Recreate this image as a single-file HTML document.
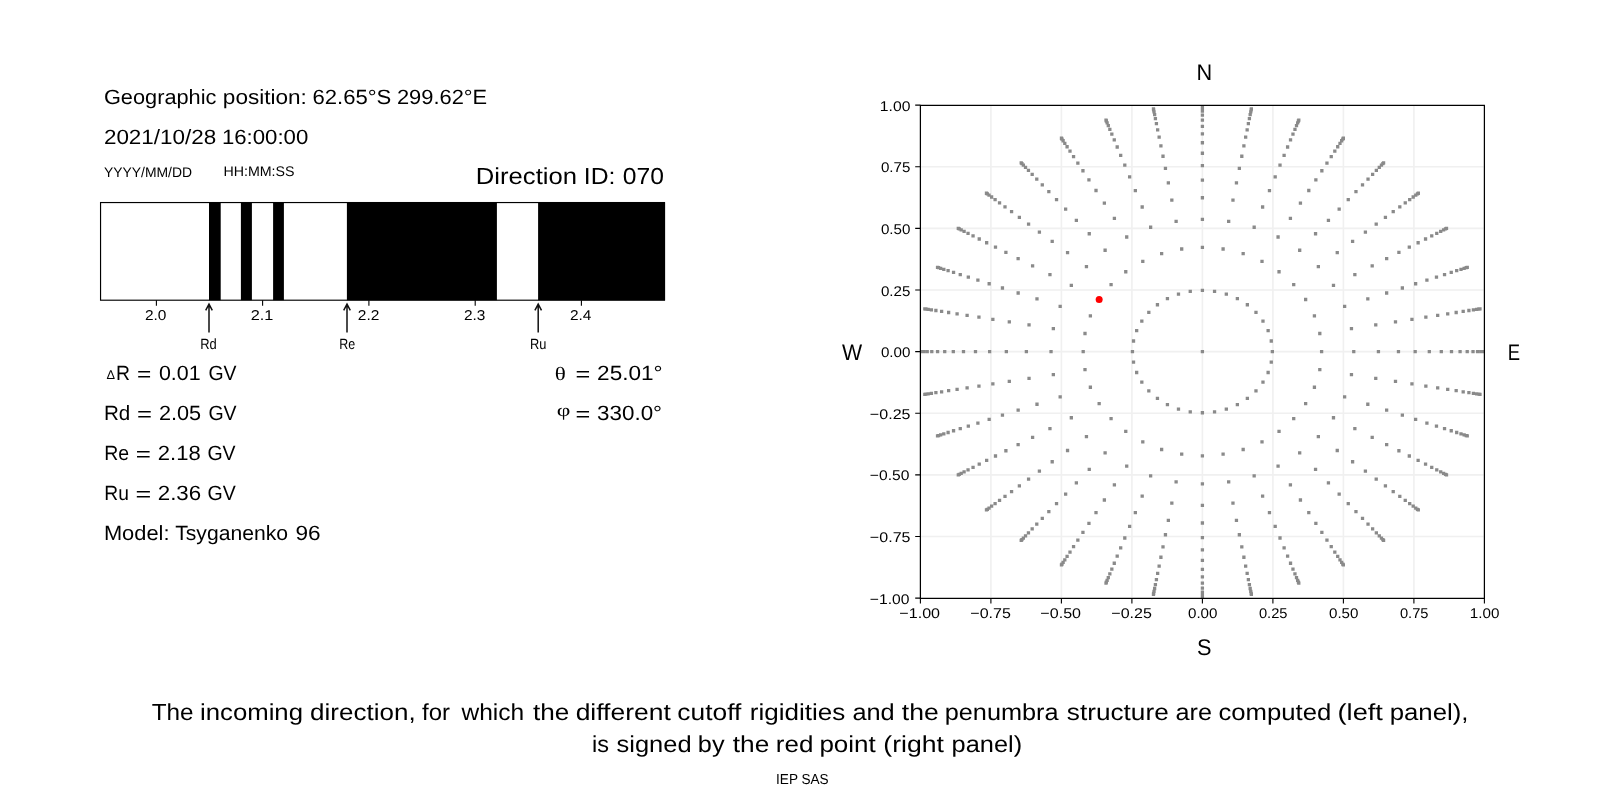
<!DOCTYPE html><html><head><meta charset="utf-8"><style>html,body{margin:0;padding:0;background:#fff;width:1600px;height:800px;overflow:hidden}svg{display:block;will-change:transform}text{fill:#000;white-space:pre;text-rendering:geometricPrecision}</style></head><body>
<svg width="1600" height="800" viewBox="0 0 1600 800">
<rect x="0" y="0" width="1600" height="800" fill="#fff"/>
<rect x="209.00" y="202.55" width="11.70" height="97.65" fill="#000"/>
<rect x="240.90" y="202.55" width="11.00" height="97.65" fill="#000"/>
<rect x="273.10" y="202.55" width="10.80" height="97.65" fill="#000"/>
<rect x="346.90" y="202.55" width="150.00" height="97.65" fill="#000"/>
<rect x="538.10" y="202.55" width="126.95" height="97.65" fill="#000"/>
<rect x="100.55" y="202.55" width="563.95" height="97.65" fill="none" stroke="#000" stroke-width="1.15"/>
<line x1="156.40" y1="300.20" x2="156.40" y2="305.8" stroke="#000" stroke-width="1.1"/>
<line x1="262.60" y1="300.20" x2="262.60" y2="305.8" stroke="#000" stroke-width="1.1"/>
<line x1="368.90" y1="300.20" x2="368.90" y2="305.8" stroke="#000" stroke-width="1.1"/>
<line x1="475.20" y1="300.20" x2="475.20" y2="305.8" stroke="#000" stroke-width="1.1"/>
<line x1="581.40" y1="300.20" x2="581.40" y2="305.8" stroke="#000" stroke-width="1.1"/>
<path d="M209.00 332.5 L209.00 304.4 M205.70 310.4 L209.00 304.2 L212.30 310.4" fill="none" stroke="#111" stroke-width="1.5" stroke-linejoin="miter"/>
<path d="M347.00 332.5 L347.00 304.4 M343.70 310.4 L347.00 304.2 L350.30 310.4" fill="none" stroke="#111" stroke-width="1.5" stroke-linejoin="miter"/>
<path d="M538.20 332.5 L538.20 304.4 M534.90 310.4 L538.20 304.2 L541.50 310.4" fill="none" stroke="#111" stroke-width="1.5" stroke-linejoin="miter"/>
<path d="M1484.40 105.40V598.40M920.40 105.10H1484.40M1413.90 105.40V598.40M920.40 166.73H1484.40M1343.40 105.40V598.40M920.40 228.35H1484.40M1272.90 105.40V598.40M920.40 289.98H1484.40M1202.40 105.40V598.40M920.40 351.60H1484.40M1131.90 105.40V598.40M920.40 413.23H1484.40M1061.40 105.40V598.40M920.40 474.85H1484.40M990.90 105.40V598.40M920.40 536.48H1484.40M920.40 105.40V598.40M920.40 598.10H1484.40" fill="none" stroke="#f0f0f0" stroke-width="1.6"/>
<clipPath id="ax"><rect x="920.40" y="105.40" width="564.00" height="493.00"/></clipPath>
<path clip-path="url(#ax)" d="M1200.75 349.95h3.3v3.3h-3.3zM1130.80 349.95h3.3v3.3h-3.3zM1131.87 360.57h3.3v3.3h-3.3zM1135.02 370.86h3.3v3.3h-3.3zM1140.17 380.52h3.3v3.3h-3.3zM1147.17 389.25h3.3v3.3h-3.3zM1155.79 396.79h3.3v3.3h-3.3zM1165.78 402.90h3.3v3.3h-3.3zM1176.83 407.40h3.3v3.3h-3.3zM1188.60 410.16h3.3v3.3h-3.3zM1200.75 411.09h3.3v3.3h-3.3zM1212.90 410.16h3.3v3.3h-3.3zM1224.67 407.40h3.3v3.3h-3.3zM1235.72 402.90h3.3v3.3h-3.3zM1245.71 396.79h3.3v3.3h-3.3zM1254.33 389.25h3.3v3.3h-3.3zM1261.33 380.52h3.3v3.3h-3.3zM1266.48 370.86h3.3v3.3h-3.3zM1269.63 360.57h3.3v3.3h-3.3zM1270.70 349.95h3.3v3.3h-3.3zM1269.63 339.33h3.3v3.3h-3.3zM1266.48 329.04h3.3v3.3h-3.3zM1261.33 319.38h3.3v3.3h-3.3zM1254.33 310.65h3.3v3.3h-3.3zM1245.71 303.11h3.3v3.3h-3.3zM1235.72 297.00h3.3v3.3h-3.3zM1224.67 292.50h3.3v3.3h-3.3zM1212.90 289.74h3.3v3.3h-3.3zM1200.75 288.81h3.3v3.3h-3.3zM1188.60 289.74h3.3v3.3h-3.3zM1176.83 292.50h3.3v3.3h-3.3zM1165.78 297.00h3.3v3.3h-3.3zM1155.79 303.11h3.3v3.3h-3.3zM1147.17 310.65h3.3v3.3h-3.3zM1140.17 319.38h3.3v3.3h-3.3zM1135.02 329.04h3.3v3.3h-3.3zM1131.87 339.33h3.3v3.3h-3.3zM1081.54 349.95h3.3v3.3h-3.3zM1083.35 368.05h3.3v3.3h-3.3zM1088.73 385.59h3.3v3.3h-3.3zM1097.51 402.05h3.3v3.3h-3.3zM1109.43 416.93h3.3v3.3h-3.3zM1124.12 429.78h3.3v3.3h-3.3zM1141.14 440.19h3.3v3.3h-3.3zM1159.98 447.87h3.3v3.3h-3.3zM1180.05 452.57h3.3v3.3h-3.3zM1200.75 454.16h3.3v3.3h-3.3zM1221.45 452.57h3.3v3.3h-3.3zM1241.52 447.87h3.3v3.3h-3.3zM1260.36 440.19h3.3v3.3h-3.3zM1277.38 429.78h3.3v3.3h-3.3zM1292.07 416.93h3.3v3.3h-3.3zM1303.99 402.05h3.3v3.3h-3.3zM1312.77 385.59h3.3v3.3h-3.3zM1318.15 368.05h3.3v3.3h-3.3zM1319.96 349.95h3.3v3.3h-3.3zM1318.15 331.85h3.3v3.3h-3.3zM1312.77 314.31h3.3v3.3h-3.3zM1303.99 297.85h3.3v3.3h-3.3zM1292.07 282.97h3.3v3.3h-3.3zM1277.38 270.12h3.3v3.3h-3.3zM1260.36 259.71h3.3v3.3h-3.3zM1241.52 252.03h3.3v3.3h-3.3zM1221.45 247.33h3.3v3.3h-3.3zM1200.75 245.74h3.3v3.3h-3.3zM1180.05 247.33h3.3v3.3h-3.3zM1159.98 252.03h3.3v3.3h-3.3zM1141.14 259.71h3.3v3.3h-3.3zM1124.12 270.12h3.3v3.3h-3.3zM1109.43 282.97h3.3v3.3h-3.3zM1097.51 297.85h3.3v3.3h-3.3zM1088.73 314.31h3.3v3.3h-3.3zM1083.35 331.85h3.3v3.3h-3.3zM1049.39 349.95h3.3v3.3h-3.3zM1051.69 372.92h3.3v3.3h-3.3zM1058.52 395.20h3.3v3.3h-3.3zM1069.67 416.10h3.3v3.3h-3.3zM1084.80 434.99h3.3v3.3h-3.3zM1103.46 451.30h3.3v3.3h-3.3zM1125.07 464.53h3.3v3.3h-3.3zM1148.98 474.28h3.3v3.3h-3.3zM1174.47 480.25h3.3v3.3h-3.3zM1200.75 482.26h3.3v3.3h-3.3zM1227.03 480.25h3.3v3.3h-3.3zM1252.52 474.28h3.3v3.3h-3.3zM1276.43 464.53h3.3v3.3h-3.3zM1298.04 451.30h3.3v3.3h-3.3zM1316.70 434.99h3.3v3.3h-3.3zM1331.83 416.10h3.3v3.3h-3.3zM1342.98 395.20h3.3v3.3h-3.3zM1349.81 372.92h3.3v3.3h-3.3zM1352.11 349.95h3.3v3.3h-3.3zM1349.81 326.98h3.3v3.3h-3.3zM1342.98 304.70h3.3v3.3h-3.3zM1331.83 283.80h3.3v3.3h-3.3zM1316.70 264.91h3.3v3.3h-3.3zM1298.04 248.60h3.3v3.3h-3.3zM1276.43 235.37h3.3v3.3h-3.3zM1252.52 225.62h3.3v3.3h-3.3zM1227.03 219.65h3.3v3.3h-3.3zM1200.75 217.64h3.3v3.3h-3.3zM1174.47 219.65h3.3v3.3h-3.3zM1148.98 225.62h3.3v3.3h-3.3zM1125.07 235.37h3.3v3.3h-3.3zM1103.46 248.60h3.3v3.3h-3.3zM1084.80 264.91h3.3v3.3h-3.3zM1069.67 283.80h3.3v3.3h-3.3zM1058.52 304.70h3.3v3.3h-3.3zM1051.69 326.98h3.3v3.3h-3.3zM1024.72 349.95h3.3v3.3h-3.3zM1027.39 376.67h3.3v3.3h-3.3zM1035.34 402.58h3.3v3.3h-3.3zM1048.30 426.88h3.3v3.3h-3.3zM1065.90 448.86h3.3v3.3h-3.3zM1087.60 467.82h3.3v3.3h-3.3zM1112.74 483.21h3.3v3.3h-3.3zM1140.54 494.54h3.3v3.3h-3.3zM1170.18 501.48h3.3v3.3h-3.3zM1200.75 503.82h3.3v3.3h-3.3zM1231.32 501.48h3.3v3.3h-3.3zM1260.96 494.54h3.3v3.3h-3.3zM1288.76 483.21h3.3v3.3h-3.3zM1313.90 467.82h3.3v3.3h-3.3zM1335.60 448.86h3.3v3.3h-3.3zM1353.20 426.88h3.3v3.3h-3.3zM1366.16 402.58h3.3v3.3h-3.3zM1374.11 376.67h3.3v3.3h-3.3zM1376.78 349.95h3.3v3.3h-3.3zM1374.11 323.23h3.3v3.3h-3.3zM1366.16 297.32h3.3v3.3h-3.3zM1353.20 273.02h3.3v3.3h-3.3zM1335.60 251.04h3.3v3.3h-3.3zM1313.90 232.08h3.3v3.3h-3.3zM1288.76 216.69h3.3v3.3h-3.3zM1260.96 205.36h3.3v3.3h-3.3zM1231.32 198.42h3.3v3.3h-3.3zM1200.75 196.08h3.3v3.3h-3.3zM1170.18 198.42h3.3v3.3h-3.3zM1140.54 205.36h3.3v3.3h-3.3zM1112.74 216.69h3.3v3.3h-3.3zM1087.60 232.08h3.3v3.3h-3.3zM1065.90 251.04h3.3v3.3h-3.3zM1048.30 273.02h3.3v3.3h-3.3zM1035.34 297.32h3.3v3.3h-3.3zM1027.39 323.23h3.3v3.3h-3.3zM1004.68 349.95h3.3v3.3h-3.3zM1007.66 379.71h3.3v3.3h-3.3zM1016.51 408.57h3.3v3.3h-3.3zM1030.95 435.64h3.3v3.3h-3.3zM1050.55 460.11h3.3v3.3h-3.3zM1074.72 481.24h3.3v3.3h-3.3zM1102.72 498.37h3.3v3.3h-3.3zM1133.69 511.00h3.3v3.3h-3.3zM1166.70 518.73h3.3v3.3h-3.3zM1200.75 521.33h3.3v3.3h-3.3zM1234.80 518.73h3.3v3.3h-3.3zM1267.81 511.00h3.3v3.3h-3.3zM1298.78 498.37h3.3v3.3h-3.3zM1326.78 481.24h3.3v3.3h-3.3zM1350.95 460.11h3.3v3.3h-3.3zM1370.55 435.64h3.3v3.3h-3.3zM1384.99 408.57h3.3v3.3h-3.3zM1393.84 379.71h3.3v3.3h-3.3zM1396.82 349.95h3.3v3.3h-3.3zM1393.84 320.19h3.3v3.3h-3.3zM1384.99 291.33h3.3v3.3h-3.3zM1370.55 264.26h3.3v3.3h-3.3zM1350.95 239.79h3.3v3.3h-3.3zM1326.78 218.66h3.3v3.3h-3.3zM1298.78 201.53h3.3v3.3h-3.3zM1267.81 188.90h3.3v3.3h-3.3zM1234.80 181.17h3.3v3.3h-3.3zM1200.75 178.57h3.3v3.3h-3.3zM1166.70 181.17h3.3v3.3h-3.3zM1133.69 188.90h3.3v3.3h-3.3zM1102.72 201.53h3.3v3.3h-3.3zM1074.72 218.66h3.3v3.3h-3.3zM1050.55 239.79h3.3v3.3h-3.3zM1030.95 264.26h3.3v3.3h-3.3zM1016.51 291.33h3.3v3.3h-3.3zM1007.66 320.19h3.3v3.3h-3.3zM987.97 349.95h3.3v3.3h-3.3zM991.20 382.25h3.3v3.3h-3.3zM1000.80 413.56h3.3v3.3h-3.3zM1016.48 442.95h3.3v3.3h-3.3zM1037.75 469.51h3.3v3.3h-3.3zM1063.98 492.43h3.3v3.3h-3.3zM1094.36 511.03h3.3v3.3h-3.3zM1127.97 524.73h3.3v3.3h-3.3zM1163.80 533.12h3.3v3.3h-3.3zM1200.75 535.94h3.3v3.3h-3.3zM1237.70 533.12h3.3v3.3h-3.3zM1273.53 524.73h3.3v3.3h-3.3zM1307.14 511.03h3.3v3.3h-3.3zM1337.52 492.43h3.3v3.3h-3.3zM1363.75 469.51h3.3v3.3h-3.3zM1385.02 442.95h3.3v3.3h-3.3zM1400.70 413.56h3.3v3.3h-3.3zM1410.30 382.25h3.3v3.3h-3.3zM1413.53 349.95h3.3v3.3h-3.3zM1410.30 317.65h3.3v3.3h-3.3zM1400.70 286.34h3.3v3.3h-3.3zM1385.02 256.95h3.3v3.3h-3.3zM1363.75 230.39h3.3v3.3h-3.3zM1337.52 207.47h3.3v3.3h-3.3zM1307.14 188.87h3.3v3.3h-3.3zM1273.53 175.17h3.3v3.3h-3.3zM1237.70 166.78h3.3v3.3h-3.3zM1200.75 163.96h3.3v3.3h-3.3zM1163.80 166.78h3.3v3.3h-3.3zM1127.97 175.17h3.3v3.3h-3.3zM1094.36 188.87h3.3v3.3h-3.3zM1063.98 207.47h3.3v3.3h-3.3zM1037.75 230.39h3.3v3.3h-3.3zM1016.48 256.95h3.3v3.3h-3.3zM1000.80 286.34h3.3v3.3h-3.3zM991.20 317.65h3.3v3.3h-3.3zM973.84 349.95h3.3v3.3h-3.3zM977.29 384.39h3.3v3.3h-3.3zM987.52 417.79h3.3v3.3h-3.3zM1004.24 449.12h3.3v3.3h-3.3zM1026.93 477.44h3.3v3.3h-3.3zM1054.89 501.89h3.3v3.3h-3.3zM1087.29 521.72h3.3v3.3h-3.3zM1123.14 536.33h3.3v3.3h-3.3zM1161.35 545.28h3.3v3.3h-3.3zM1200.75 548.30h3.3v3.3h-3.3zM1240.15 545.28h3.3v3.3h-3.3zM1278.36 536.33h3.3v3.3h-3.3zM1314.21 521.72h3.3v3.3h-3.3zM1346.61 501.89h3.3v3.3h-3.3zM1374.57 477.44h3.3v3.3h-3.3zM1397.26 449.12h3.3v3.3h-3.3zM1413.98 417.79h3.3v3.3h-3.3zM1424.21 384.39h3.3v3.3h-3.3zM1427.66 349.95h3.3v3.3h-3.3zM1424.21 315.51h3.3v3.3h-3.3zM1413.98 282.11h3.3v3.3h-3.3zM1397.26 250.78h3.3v3.3h-3.3zM1374.57 222.46h3.3v3.3h-3.3zM1346.61 198.01h3.3v3.3h-3.3zM1314.21 178.18h3.3v3.3h-3.3zM1278.36 163.57h3.3v3.3h-3.3zM1240.15 154.62h3.3v3.3h-3.3zM1200.75 151.60h3.3v3.3h-3.3zM1161.35 154.62h3.3v3.3h-3.3zM1123.14 163.57h3.3v3.3h-3.3zM1087.29 178.18h3.3v3.3h-3.3zM1054.89 198.01h3.3v3.3h-3.3zM1026.93 222.46h3.3v3.3h-3.3zM1004.24 250.78h3.3v3.3h-3.3zM987.52 282.11h3.3v3.3h-3.3zM977.29 315.51h3.3v3.3h-3.3zM961.84 349.95h3.3v3.3h-3.3zM965.46 386.21h3.3v3.3h-3.3zM976.24 421.38h3.3v3.3h-3.3zM993.84 454.37h3.3v3.3h-3.3zM1017.73 484.19h3.3v3.3h-3.3zM1047.18 509.93h3.3v3.3h-3.3zM1081.29 530.81h3.3v3.3h-3.3zM1119.04 546.19h3.3v3.3h-3.3zM1159.26 555.62h3.3v3.3h-3.3zM1200.75 558.79h3.3v3.3h-3.3zM1242.24 555.62h3.3v3.3h-3.3zM1282.46 546.19h3.3v3.3h-3.3zM1320.21 530.81h3.3v3.3h-3.3zM1354.32 509.93h3.3v3.3h-3.3zM1383.77 484.19h3.3v3.3h-3.3zM1407.66 454.37h3.3v3.3h-3.3zM1425.26 421.38h3.3v3.3h-3.3zM1436.04 386.21h3.3v3.3h-3.3zM1439.66 349.95h3.3v3.3h-3.3zM1436.04 313.69h3.3v3.3h-3.3zM1425.26 278.52h3.3v3.3h-3.3zM1407.66 245.53h3.3v3.3h-3.3zM1383.77 215.71h3.3v3.3h-3.3zM1354.32 189.97h3.3v3.3h-3.3zM1320.21 169.09h3.3v3.3h-3.3zM1282.46 153.71h3.3v3.3h-3.3zM1242.24 144.28h3.3v3.3h-3.3zM1200.75 141.11h3.3v3.3h-3.3zM1159.26 144.28h3.3v3.3h-3.3zM1119.04 153.71h3.3v3.3h-3.3zM1081.29 169.09h3.3v3.3h-3.3zM1047.18 189.97h3.3v3.3h-3.3zM1017.73 215.71h3.3v3.3h-3.3zM993.84 245.53h3.3v3.3h-3.3zM976.24 278.52h3.3v3.3h-3.3zM965.46 313.69h3.3v3.3h-3.3zM951.65 349.95h3.3v3.3h-3.3zM955.44 387.76h3.3v3.3h-3.3zM966.67 424.42h3.3v3.3h-3.3zM985.02 458.82h3.3v3.3h-3.3zM1009.93 489.91h3.3v3.3h-3.3zM1040.63 516.75h3.3v3.3h-3.3zM1076.20 538.52h3.3v3.3h-3.3zM1115.55 554.56h3.3v3.3h-3.3zM1157.49 564.38h3.3v3.3h-3.3zM1200.75 567.69h3.3v3.3h-3.3zM1244.01 564.38h3.3v3.3h-3.3zM1285.95 554.56h3.3v3.3h-3.3zM1325.30 538.52h3.3v3.3h-3.3zM1360.87 516.75h3.3v3.3h-3.3zM1391.57 489.91h3.3v3.3h-3.3zM1416.48 458.82h3.3v3.3h-3.3zM1434.83 424.42h3.3v3.3h-3.3zM1446.06 387.76h3.3v3.3h-3.3zM1449.85 349.95h3.3v3.3h-3.3zM1446.06 312.14h3.3v3.3h-3.3zM1434.83 275.48h3.3v3.3h-3.3zM1416.48 241.08h3.3v3.3h-3.3zM1391.57 209.99h3.3v3.3h-3.3zM1360.87 183.15h3.3v3.3h-3.3zM1325.30 161.38h3.3v3.3h-3.3zM1285.95 145.34h3.3v3.3h-3.3zM1244.01 135.52h3.3v3.3h-3.3zM1200.75 132.21h3.3v3.3h-3.3zM1157.49 135.52h3.3v3.3h-3.3zM1115.55 145.34h3.3v3.3h-3.3zM1076.20 161.38h3.3v3.3h-3.3zM1040.63 183.15h3.3v3.3h-3.3zM1009.93 209.99h3.3v3.3h-3.3zM985.02 241.08h3.3v3.3h-3.3zM966.67 275.48h3.3v3.3h-3.3zM955.44 312.14h3.3v3.3h-3.3zM943.07 349.95h3.3v3.3h-3.3zM946.98 389.06h3.3v3.3h-3.3zM958.61 426.99h3.3v3.3h-3.3zM977.59 462.57h3.3v3.3h-3.3zM1003.35 494.73h3.3v3.3h-3.3zM1035.12 522.50h3.3v3.3h-3.3zM1071.91 545.02h3.3v3.3h-3.3zM1112.62 561.61h3.3v3.3h-3.3zM1156.00 571.77h3.3v3.3h-3.3zM1200.75 575.19h3.3v3.3h-3.3zM1245.50 571.77h3.3v3.3h-3.3zM1288.88 561.61h3.3v3.3h-3.3zM1329.59 545.02h3.3v3.3h-3.3zM1366.38 522.50h3.3v3.3h-3.3zM1398.15 494.73h3.3v3.3h-3.3zM1423.91 462.57h3.3v3.3h-3.3zM1442.89 426.99h3.3v3.3h-3.3zM1454.52 389.06h3.3v3.3h-3.3zM1458.43 349.95h3.3v3.3h-3.3zM1454.52 310.84h3.3v3.3h-3.3zM1442.89 272.91h3.3v3.3h-3.3zM1423.91 237.33h3.3v3.3h-3.3zM1398.15 205.17h3.3v3.3h-3.3zM1366.38 177.40h3.3v3.3h-3.3zM1329.59 154.88h3.3v3.3h-3.3zM1288.88 138.29h3.3v3.3h-3.3zM1245.50 128.13h3.3v3.3h-3.3zM1200.75 124.71h3.3v3.3h-3.3zM1156.00 128.13h3.3v3.3h-3.3zM1112.62 138.29h3.3v3.3h-3.3zM1071.91 154.88h3.3v3.3h-3.3zM1035.12 177.40h3.3v3.3h-3.3zM1003.35 205.17h3.3v3.3h-3.3zM977.59 237.33h3.3v3.3h-3.3zM958.61 272.91h3.3v3.3h-3.3zM946.98 310.84h3.3v3.3h-3.3zM935.93 349.95h3.3v3.3h-3.3zM939.96 390.15h3.3v3.3h-3.3zM951.91 429.12h3.3v3.3h-3.3zM971.41 465.69h3.3v3.3h-3.3zM997.89 498.74h3.3v3.3h-3.3zM1030.53 527.27h3.3v3.3h-3.3zM1068.34 550.42h3.3v3.3h-3.3zM1110.18 567.47h3.3v3.3h-3.3zM1154.77 577.91h3.3v3.3h-3.3zM1200.75 581.43h3.3v3.3h-3.3zM1246.73 577.91h3.3v3.3h-3.3zM1291.32 567.47h3.3v3.3h-3.3zM1333.16 550.42h3.3v3.3h-3.3zM1370.97 527.27h3.3v3.3h-3.3zM1403.61 498.74h3.3v3.3h-3.3zM1430.09 465.69h3.3v3.3h-3.3zM1449.59 429.12h3.3v3.3h-3.3zM1461.54 390.15h3.3v3.3h-3.3zM1465.57 349.95h3.3v3.3h-3.3zM1461.54 309.75h3.3v3.3h-3.3zM1449.59 270.78h3.3v3.3h-3.3zM1430.09 234.21h3.3v3.3h-3.3zM1403.61 201.16h3.3v3.3h-3.3zM1370.97 172.63h3.3v3.3h-3.3zM1333.16 149.48h3.3v3.3h-3.3zM1291.32 132.43h3.3v3.3h-3.3zM1246.73 121.99h3.3v3.3h-3.3zM1200.75 118.47h3.3v3.3h-3.3zM1154.77 121.99h3.3v3.3h-3.3zM1110.18 132.43h3.3v3.3h-3.3zM1068.34 149.48h3.3v3.3h-3.3zM1030.53 172.63h3.3v3.3h-3.3zM997.89 201.16h3.3v3.3h-3.3zM971.41 234.21h3.3v3.3h-3.3zM951.91 270.78h3.3v3.3h-3.3zM939.96 309.75h3.3v3.3h-3.3zM930.13 349.95h3.3v3.3h-3.3zM934.24 391.03h3.3v3.3h-3.3zM946.45 430.85h3.3v3.3h-3.3zM966.39 468.22h3.3v3.3h-3.3zM993.45 502.00h3.3v3.3h-3.3zM1026.80 531.16h3.3v3.3h-3.3zM1065.44 554.81h3.3v3.3h-3.3zM1108.19 572.23h3.3v3.3h-3.3zM1153.76 582.91h3.3v3.3h-3.3zM1200.75 586.50h3.3v3.3h-3.3zM1247.74 582.91h3.3v3.3h-3.3zM1293.31 572.23h3.3v3.3h-3.3zM1336.06 554.81h3.3v3.3h-3.3zM1374.70 531.16h3.3v3.3h-3.3zM1408.05 502.00h3.3v3.3h-3.3zM1435.11 468.22h3.3v3.3h-3.3zM1455.05 430.85h3.3v3.3h-3.3zM1467.26 391.03h3.3v3.3h-3.3zM1471.37 349.95h3.3v3.3h-3.3zM1467.26 308.87h3.3v3.3h-3.3zM1455.05 269.05h3.3v3.3h-3.3zM1435.11 231.68h3.3v3.3h-3.3zM1408.05 197.90h3.3v3.3h-3.3zM1374.70 168.74h3.3v3.3h-3.3zM1336.06 145.09h3.3v3.3h-3.3zM1293.31 127.67h3.3v3.3h-3.3zM1247.74 116.99h3.3v3.3h-3.3zM1200.75 113.40h3.3v3.3h-3.3zM1153.76 116.99h3.3v3.3h-3.3zM1108.19 127.67h3.3v3.3h-3.3zM1065.44 145.09h3.3v3.3h-3.3zM1026.80 168.74h3.3v3.3h-3.3zM993.45 197.90h3.3v3.3h-3.3zM966.39 231.68h3.3v3.3h-3.3zM946.45 269.05h3.3v3.3h-3.3zM934.24 308.87h3.3v3.3h-3.3zM925.58 349.95h3.3v3.3h-3.3zM929.76 391.72h3.3v3.3h-3.3zM942.17 432.22h3.3v3.3h-3.3zM962.45 470.22h3.3v3.3h-3.3zM989.96 504.56h3.3v3.3h-3.3zM1023.87 534.21h3.3v3.3h-3.3zM1063.16 558.26h3.3v3.3h-3.3zM1106.64 575.97h3.3v3.3h-3.3zM1152.97 586.83h3.3v3.3h-3.3zM1200.75 590.48h3.3v3.3h-3.3zM1248.53 586.83h3.3v3.3h-3.3zM1294.86 575.97h3.3v3.3h-3.3zM1338.34 558.26h3.3v3.3h-3.3zM1377.63 534.21h3.3v3.3h-3.3zM1411.54 504.56h3.3v3.3h-3.3zM1439.05 470.22h3.3v3.3h-3.3zM1459.33 432.22h3.3v3.3h-3.3zM1471.74 391.72h3.3v3.3h-3.3zM1475.92 349.95h3.3v3.3h-3.3zM1471.74 308.18h3.3v3.3h-3.3zM1459.33 267.68h3.3v3.3h-3.3zM1439.05 229.68h3.3v3.3h-3.3zM1411.54 195.34h3.3v3.3h-3.3zM1377.63 165.69h3.3v3.3h-3.3zM1338.34 141.64h3.3v3.3h-3.3zM1294.86 123.93h3.3v3.3h-3.3zM1248.53 113.07h3.3v3.3h-3.3zM1200.75 109.42h3.3v3.3h-3.3zM1152.97 113.07h3.3v3.3h-3.3zM1106.64 123.93h3.3v3.3h-3.3zM1063.16 141.64h3.3v3.3h-3.3zM1023.87 165.69h3.3v3.3h-3.3zM989.96 195.34h3.3v3.3h-3.3zM962.45 229.68h3.3v3.3h-3.3zM942.17 267.68h3.3v3.3h-3.3zM929.76 308.18h3.3v3.3h-3.3zM922.21 349.95h3.3v3.3h-3.3zM926.45 392.23h3.3v3.3h-3.3zM939.01 433.22h3.3v3.3h-3.3zM959.53 471.69h3.3v3.3h-3.3zM987.38 506.45h3.3v3.3h-3.3zM1021.71 536.46h3.3v3.3h-3.3zM1061.48 560.80h3.3v3.3h-3.3zM1105.48 578.74h3.3v3.3h-3.3zM1152.38 589.72h3.3v3.3h-3.3zM1200.75 593.42h3.3v3.3h-3.3zM1249.12 589.72h3.3v3.3h-3.3zM1296.02 578.74h3.3v3.3h-3.3zM1340.02 560.80h3.3v3.3h-3.3zM1379.79 536.46h3.3v3.3h-3.3zM1414.12 506.45h3.3v3.3h-3.3zM1441.97 471.69h3.3v3.3h-3.3zM1462.49 433.22h3.3v3.3h-3.3zM1475.05 392.23h3.3v3.3h-3.3zM1479.29 349.95h3.3v3.3h-3.3zM1475.05 307.67h3.3v3.3h-3.3zM1462.49 266.68h3.3v3.3h-3.3zM1441.97 228.21h3.3v3.3h-3.3zM1414.12 193.45h3.3v3.3h-3.3zM1379.79 163.44h3.3v3.3h-3.3zM1340.02 139.10h3.3v3.3h-3.3zM1296.02 121.16h3.3v3.3h-3.3zM1249.12 110.18h3.3v3.3h-3.3zM1200.75 106.48h3.3v3.3h-3.3zM1152.38 110.18h3.3v3.3h-3.3zM1105.48 121.16h3.3v3.3h-3.3zM1061.48 139.10h3.3v3.3h-3.3zM1021.71 163.44h3.3v3.3h-3.3zM987.38 193.45h3.3v3.3h-3.3zM959.53 228.21h3.3v3.3h-3.3zM939.01 266.68h3.3v3.3h-3.3zM926.45 307.67h3.3v3.3h-3.3zM919.99 349.95h3.3v3.3h-3.3zM924.26 392.57h3.3v3.3h-3.3zM936.92 433.89h3.3v3.3h-3.3zM957.61 472.66h3.3v3.3h-3.3zM985.68 507.70h3.3v3.3h-3.3zM1020.28 537.95h3.3v3.3h-3.3zM1060.37 562.49h3.3v3.3h-3.3zM1104.73 580.56h3.3v3.3h-3.3zM1152.00 591.64h3.3v3.3h-3.3zM1200.75 595.36h3.3v3.3h-3.3zM1249.50 591.64h3.3v3.3h-3.3zM1296.77 580.56h3.3v3.3h-3.3zM1341.13 562.49h3.3v3.3h-3.3zM1381.22 537.95h3.3v3.3h-3.3zM1415.82 507.70h3.3v3.3h-3.3zM1443.89 472.66h3.3v3.3h-3.3zM1464.58 433.89h3.3v3.3h-3.3zM1477.24 392.57h3.3v3.3h-3.3zM1481.51 349.95h3.3v3.3h-3.3zM1477.24 307.33h3.3v3.3h-3.3zM1464.58 266.01h3.3v3.3h-3.3zM1443.89 227.24h3.3v3.3h-3.3zM1415.82 192.20h3.3v3.3h-3.3zM1381.22 161.95h3.3v3.3h-3.3zM1341.13 137.41h3.3v3.3h-3.3zM1296.77 119.34h3.3v3.3h-3.3zM1249.50 108.26h3.3v3.3h-3.3zM1200.75 104.54h3.3v3.3h-3.3zM1152.00 108.26h3.3v3.3h-3.3zM1104.73 119.34h3.3v3.3h-3.3zM1060.37 137.41h3.3v3.3h-3.3zM1020.28 161.95h3.3v3.3h-3.3zM985.68 192.20h3.3v3.3h-3.3zM957.61 227.24h3.3v3.3h-3.3zM936.92 266.01h3.3v3.3h-3.3zM924.26 307.33h3.3v3.3h-3.3zM918.89 349.95h3.3v3.3h-3.3zM923.17 392.73h3.3v3.3h-3.3zM935.89 434.22h3.3v3.3h-3.3zM956.65 473.14h3.3v3.3h-3.3zM984.83 508.32h3.3v3.3h-3.3zM1019.57 538.69h3.3v3.3h-3.3zM1059.82 563.32h3.3v3.3h-3.3zM1104.35 581.47h3.3v3.3h-3.3zM1151.81 592.59h3.3v3.3h-3.3zM1200.75 596.33h3.3v3.3h-3.3zM1249.69 592.59h3.3v3.3h-3.3zM1297.15 581.47h3.3v3.3h-3.3zM1341.68 563.32h3.3v3.3h-3.3zM1381.93 538.69h3.3v3.3h-3.3zM1416.67 508.32h3.3v3.3h-3.3zM1444.85 473.14h3.3v3.3h-3.3zM1465.61 434.22h3.3v3.3h-3.3zM1478.33 392.73h3.3v3.3h-3.3zM1482.61 349.95h3.3v3.3h-3.3zM1478.33 307.17h3.3v3.3h-3.3zM1465.61 265.68h3.3v3.3h-3.3zM1444.85 226.76h3.3v3.3h-3.3zM1416.67 191.58h3.3v3.3h-3.3zM1381.93 161.21h3.3v3.3h-3.3zM1341.68 136.58h3.3v3.3h-3.3zM1297.15 118.43h3.3v3.3h-3.3zM1249.69 107.31h3.3v3.3h-3.3zM1200.75 103.57h3.3v3.3h-3.3zM1151.81 107.31h3.3v3.3h-3.3zM1104.35 118.43h3.3v3.3h-3.3zM1059.82 136.58h3.3v3.3h-3.3zM1019.57 161.21h3.3v3.3h-3.3zM984.83 191.58h3.3v3.3h-3.3zM956.65 226.76h3.3v3.3h-3.3zM935.89 265.68h3.3v3.3h-3.3zM923.17 307.17h3.3v3.3h-3.3z" fill="#8a8a8a"/>
<circle cx="1099.16" cy="299.50" r="3.5" fill="#ff0000"/>
<rect x="920.40" y="105.40" width="564.00" height="493.00" fill="none" stroke="#000" stroke-width="1.2"/>
<path d="M1484.40 598.40V603.60M920.40 105.10H915.20M1413.90 598.40V603.60M920.40 166.73H915.20M1343.40 598.40V603.60M920.40 228.35H915.20M1272.90 598.40V603.60M920.40 289.98H915.20M1202.40 598.40V603.60M920.40 351.60H915.20M1131.90 598.40V603.60M920.40 413.23H915.20M1061.40 598.40V603.60M920.40 474.85H915.20M990.90 598.40V603.60M920.40 536.48H915.20M920.40 598.40V603.60M920.40 598.10H915.20" fill="none" stroke="#000" stroke-width="1.1"/>
<text x="103.92" y="103.75" font-family='"Liberation Sans", sans-serif' font-size="20.60" textLength="112.53" lengthAdjust="spacingAndGlyphs">Geographic</text>
<text x="222.86" y="103.75" font-family='"Liberation Sans", sans-serif' font-size="20.60" textLength="84.00" lengthAdjust="spacingAndGlyphs">position:</text>
<text x="312.50" y="103.75" font-family='"Liberation Sans", sans-serif' font-size="20.60" textLength="78.80" lengthAdjust="spacingAndGlyphs">62.65°S</text>
<text x="396.96" y="103.75" font-family='"Liberation Sans", sans-serif' font-size="20.60" textLength="90.21" lengthAdjust="spacingAndGlyphs">299.62°E</text>
<text x="103.91" y="143.75" font-family='"Liberation Sans", sans-serif' font-size="20.60" textLength="112.26" lengthAdjust="spacingAndGlyphs">2021/10/28</text>
<text x="221.91" y="143.75" font-family='"Liberation Sans", sans-serif' font-size="20.60" textLength="86.37" lengthAdjust="spacingAndGlyphs">16:00:00</text>
<text x="103.97" y="176.90" font-family='"Liberation Sans", sans-serif' font-size="14.00" textLength="88.06" lengthAdjust="spacingAndGlyphs">YYYY/MM/DD</text>
<text x="223.46" y="176.00" font-family='"Liberation Sans", sans-serif' font-size="14.00" textLength="71.06" lengthAdjust="spacingAndGlyphs">HH:MM:SS</text>
<text x="475.83" y="183.90" font-family='"Liberation Sans", sans-serif' font-size="23.20" textLength="101.15" lengthAdjust="spacingAndGlyphs">Direction</text>
<text x="583.80" y="183.90" font-family='"Liberation Sans", sans-serif' font-size="23.20" textLength="31.63" lengthAdjust="spacingAndGlyphs">ID:</text>
<text x="622.73" y="183.90" font-family='"Liberation Sans", sans-serif' font-size="23.20" textLength="41.12" lengthAdjust="spacingAndGlyphs">070</text>
<text x="144.91" y="319.80" font-family='"Liberation Sans", sans-serif' font-size="14.20" textLength="21.49" lengthAdjust="spacingAndGlyphs">2.0</text>
<text x="200.14" y="348.80" font-family='"Liberation Sans", sans-serif' font-size="14.80" textLength="16.54" lengthAdjust="spacingAndGlyphs">Rd</text>
<text x="339.17" y="348.70" font-family='"Liberation Sans", sans-serif' font-size="14.80" textLength="15.91" lengthAdjust="spacingAndGlyphs">Re</text>
<text x="530.10" y="348.70" font-family='"Liberation Sans", sans-serif' font-size="14.80" textLength="16.41" lengthAdjust="spacingAndGlyphs">Ru</text>
<text x="106.40" y="379.20" font-family='"Liberation Sans", sans-serif' font-size="12.60" textLength="8.55" lengthAdjust="spacingAndGlyphs">Δ</text>
<text x="115.94" y="379.80" font-family='"Liberation Sans", sans-serif' font-size="20.60" textLength="13.97" lengthAdjust="spacingAndGlyphs">R</text>
<text x="137.10" y="380.60" font-family='"Liberation Sans", sans-serif' font-size="20.60" textLength="14.28" lengthAdjust="spacingAndGlyphs">=</text>
<text x="158.98" y="379.80" font-family='"Liberation Sans", sans-serif' font-size="20.60" textLength="41.67" lengthAdjust="spacingAndGlyphs">0.01</text>
<text x="208.42" y="379.80" font-family='"Liberation Sans", sans-serif' font-size="20.60" textLength="28.10" lengthAdjust="spacingAndGlyphs">GV</text>
<text x="104.00" y="420.00" font-family='"Liberation Sans", sans-serif' font-size="20.60" textLength="26.33" lengthAdjust="spacingAndGlyphs">Rd</text>
<text x="137.01" y="420.80" font-family='"Liberation Sans", sans-serif' font-size="20.60" textLength="14.98" lengthAdjust="spacingAndGlyphs">=</text>
<text x="158.96" y="420.00" font-family='"Liberation Sans", sans-serif' font-size="20.60" textLength="42.13" lengthAdjust="spacingAndGlyphs">2.05</text>
<text x="208.39" y="420.00" font-family='"Liberation Sans", sans-serif' font-size="20.60" textLength="28.22" lengthAdjust="spacingAndGlyphs">GV</text>
<text x="104.27" y="460.00" font-family='"Liberation Sans", sans-serif' font-size="20.60" textLength="24.86" lengthAdjust="spacingAndGlyphs">Re</text>
<text x="135.65" y="460.80" font-family='"Liberation Sans", sans-serif' font-size="20.60" textLength="15.16" lengthAdjust="spacingAndGlyphs">=</text>
<text x="157.77" y="460.00" font-family='"Liberation Sans", sans-serif' font-size="20.60" textLength="42.89" lengthAdjust="spacingAndGlyphs">2.18</text>
<text x="207.45" y="460.00" font-family='"Liberation Sans", sans-serif' font-size="20.60" textLength="28.19" lengthAdjust="spacingAndGlyphs">GV</text>
<text x="104.25" y="500.00" font-family='"Liberation Sans", sans-serif' font-size="20.60" textLength="24.59" lengthAdjust="spacingAndGlyphs">Ru</text>
<text x="135.60" y="500.80" font-family='"Liberation Sans", sans-serif' font-size="20.60" textLength="15.74" lengthAdjust="spacingAndGlyphs">=</text>
<text x="157.75" y="500.00" font-family='"Liberation Sans", sans-serif' font-size="20.60" textLength="43.42" lengthAdjust="spacingAndGlyphs">2.36</text>
<text x="207.43" y="500.00" font-family='"Liberation Sans", sans-serif' font-size="20.60" textLength="28.26" lengthAdjust="spacingAndGlyphs">GV</text>
<text x="103.90" y="540.00" font-family='"Liberation Sans", sans-serif' font-size="20.60" textLength="65.64" lengthAdjust="spacingAndGlyphs">Model:</text>
<text x="175.20" y="540.00" font-family='"Liberation Sans", sans-serif' font-size="20.60" textLength="112.86" lengthAdjust="spacingAndGlyphs">Tsyganenko</text>
<text x="295.48" y="540.00" font-family='"Liberation Sans", sans-serif' font-size="20.60" textLength="25.14" lengthAdjust="spacingAndGlyphs">96</text>
<text x="554.79" y="379.90" font-family='"Liberation Serif", serif' font-size="19.00" textLength="11.05" lengthAdjust="spacingAndGlyphs">θ</text>
<text x="575.55" y="380.70" font-family='"Liberation Sans", sans-serif' font-size="20.60" textLength="14.77" lengthAdjust="spacingAndGlyphs">=</text>
<text x="597.08" y="379.90" font-family='"Liberation Sans", sans-serif' font-size="20.60" textLength="65.50" lengthAdjust="spacingAndGlyphs">25.01°</text>
<text x="556.69" y="415.50" font-family='"Liberation Serif", serif' font-size="17.50" textLength="13.64" lengthAdjust="spacingAndGlyphs">φ</text>
<text x="575.55" y="420.50" font-family='"Liberation Sans", sans-serif' font-size="20.60" textLength="14.77" lengthAdjust="spacingAndGlyphs">=</text>
<text x="597.07" y="419.70" font-family='"Liberation Sans", sans-serif' font-size="20.60" textLength="65.00" lengthAdjust="spacingAndGlyphs">330.0°</text>
<text x="151.70" y="720.00" font-family='"Liberation Sans", sans-serif' font-size="23.20" textLength="41.89" lengthAdjust="spacingAndGlyphs">The</text>
<text x="199.97" y="720.00" font-family='"Liberation Sans", sans-serif' font-size="23.20" textLength="103.02" lengthAdjust="spacingAndGlyphs">incoming</text>
<text x="310.11" y="720.00" font-family='"Liberation Sans", sans-serif' font-size="23.20" textLength="105.53" lengthAdjust="spacingAndGlyphs">direction,</text>
<text x="422.11" y="720.00" font-family='"Liberation Sans", sans-serif' font-size="23.20" textLength="27.97" lengthAdjust="spacingAndGlyphs">for</text>
<text x="461.41" y="720.00" font-family='"Liberation Sans", sans-serif' font-size="23.20" textLength="62.79" lengthAdjust="spacingAndGlyphs">which</text>
<text x="533.00" y="720.00" font-family='"Liberation Sans", sans-serif' font-size="23.20" textLength="36.33" lengthAdjust="spacingAndGlyphs">the</text>
<text x="575.65" y="720.00" font-family='"Liberation Sans", sans-serif' font-size="23.20" textLength="95.20" lengthAdjust="spacingAndGlyphs">different</text>
<text x="677.38" y="720.00" font-family='"Liberation Sans", sans-serif' font-size="23.20" textLength="64.02" lengthAdjust="spacingAndGlyphs">cutoff</text>
<text x="749.84" y="720.00" font-family='"Liberation Sans", sans-serif' font-size="23.20" textLength="95.52" lengthAdjust="spacingAndGlyphs">rigidities</text>
<text x="852.43" y="720.00" font-family='"Liberation Sans", sans-serif' font-size="23.20" textLength="42.29" lengthAdjust="spacingAndGlyphs">and</text>
<text x="901.85" y="720.00" font-family='"Liberation Sans", sans-serif' font-size="23.20" textLength="36.94" lengthAdjust="spacingAndGlyphs">the</text>
<text x="944.72" y="720.00" font-family='"Liberation Sans", sans-serif' font-size="23.20" textLength="113.87" lengthAdjust="spacingAndGlyphs">penumbra</text>
<text x="1066.84" y="720.00" font-family='"Liberation Sans", sans-serif' font-size="23.20" textLength="101.90" lengthAdjust="spacingAndGlyphs">structure</text>
<text x="1175.45" y="720.00" font-family='"Liberation Sans", sans-serif' font-size="23.20" textLength="36.50" lengthAdjust="spacingAndGlyphs">are</text>
<text x="1218.41" y="720.00" font-family='"Liberation Sans", sans-serif' font-size="23.20" textLength="112.98" lengthAdjust="spacingAndGlyphs">computed</text>
<text x="1337.51" y="720.00" font-family='"Liberation Sans", sans-serif' font-size="23.20" textLength="45.43" lengthAdjust="spacingAndGlyphs">(left</text>
<text x="1389.68" y="720.00" font-family='"Liberation Sans", sans-serif' font-size="23.20" textLength="78.81" lengthAdjust="spacingAndGlyphs">panel),</text>
<text x="592.09" y="752.00" font-family='"Liberation Sans", sans-serif' font-size="23.20" textLength="16.97" lengthAdjust="spacingAndGlyphs">is</text>
<text x="616.56" y="752.00" font-family='"Liberation Sans", sans-serif' font-size="23.20" textLength="75.07" lengthAdjust="spacingAndGlyphs">signed</text>
<text x="697.86" y="752.00" font-family='"Liberation Sans", sans-serif' font-size="23.20" textLength="26.69" lengthAdjust="spacingAndGlyphs">by</text>
<text x="732.71" y="752.00" font-family='"Liberation Sans", sans-serif' font-size="23.20" textLength="36.56" lengthAdjust="spacingAndGlyphs">the</text>
<text x="775.82" y="752.00" font-family='"Liberation Sans", sans-serif' font-size="23.20" textLength="37.56" lengthAdjust="spacingAndGlyphs">red</text>
<text x="819.41" y="752.00" font-family='"Liberation Sans", sans-serif' font-size="23.20" textLength="56.41" lengthAdjust="spacingAndGlyphs">point</text>
<text x="883.36" y="752.00" font-family='"Liberation Sans", sans-serif' font-size="23.20" textLength="60.62" lengthAdjust="spacingAndGlyphs">(right</text>
<text x="951.58" y="752.00" font-family='"Liberation Sans", sans-serif' font-size="23.20" textLength="70.57" lengthAdjust="spacingAndGlyphs">panel)</text>
<text x="776.04" y="784.00" font-family='"Liberation Sans", sans-serif' font-size="14.50" textLength="52.66" lengthAdjust="spacingAndGlyphs">IEP SAS</text>
<text x="1196.57" y="79.70" font-family='"Liberation Sans", sans-serif' font-size="22.70" textLength="15.68" lengthAdjust="spacingAndGlyphs">N</text>
<text x="842.00" y="359.70" font-family='"Liberation Sans", sans-serif' font-size="22.70" textLength="20.15" lengthAdjust="spacingAndGlyphs">W</text>
<text x="1507.78" y="360.00" font-family='"Liberation Sans", sans-serif' font-size="22.70" textLength="12.33" lengthAdjust="spacingAndGlyphs">E</text>
<text x="1196.90" y="655.30" font-family='"Liberation Sans", sans-serif' font-size="22.70" textLength="14.49" lengthAdjust="spacingAndGlyphs">S</text>
<text x="250.81" y="319.80" font-family='"Liberation Sans", sans-serif' font-size="14.20" textLength="22.64" lengthAdjust="spacingAndGlyphs">2.1</text>
<text x="357.89" y="319.80" font-family='"Liberation Sans", sans-serif' font-size="14.20" textLength="21.56" lengthAdjust="spacingAndGlyphs">2.2</text>
<text x="463.93" y="319.80" font-family='"Liberation Sans", sans-serif' font-size="14.20" textLength="21.44" lengthAdjust="spacingAndGlyphs">2.3</text>
<text x="569.95" y="319.80" font-family='"Liberation Sans", sans-serif' font-size="14.20" textLength="21.44" lengthAdjust="spacingAndGlyphs">2.4</text>
<text x="879.89" y="110.70" font-family='"Liberation Sans", sans-serif' font-size="14.10" textLength="30.56" lengthAdjust="spacingAndGlyphs">1.00</text>
<text x="880.94" y="172.33" font-family='"Liberation Sans", sans-serif' font-size="14.10" textLength="29.47" lengthAdjust="spacingAndGlyphs">0.75</text>
<text x="880.91" y="233.95" font-family='"Liberation Sans", sans-serif' font-size="14.10" textLength="29.52" lengthAdjust="spacingAndGlyphs">0.50</text>
<text x="880.94" y="295.58" font-family='"Liberation Sans", sans-serif' font-size="14.10" textLength="29.47" lengthAdjust="spacingAndGlyphs">0.25</text>
<text x="880.91" y="357.20" font-family='"Liberation Sans", sans-serif' font-size="14.10" textLength="29.52" lengthAdjust="spacingAndGlyphs">0.00</text>
<text x="869.88" y="418.83" font-family='"Liberation Sans", sans-serif' font-size="14.10" textLength="40.63" lengthAdjust="spacingAndGlyphs">−0.25</text>
<text x="869.88" y="480.45" font-family='"Liberation Sans", sans-serif' font-size="14.10" textLength="39.61" lengthAdjust="spacingAndGlyphs">−0.50</text>
<text x="869.88" y="542.08" font-family='"Liberation Sans", sans-serif' font-size="14.10" textLength="40.63" lengthAdjust="spacingAndGlyphs">−0.75</text>
<text x="869.88" y="603.70" font-family='"Liberation Sans", sans-serif' font-size="14.10" textLength="39.61" lengthAdjust="spacingAndGlyphs">−1.00</text>
<text x="1469.89" y="617.80" font-family='"Liberation Sans", sans-serif' font-size="14.10" textLength="29.58" lengthAdjust="spacingAndGlyphs">1.00</text>
<text x="1399.94" y="617.80" font-family='"Liberation Sans", sans-serif' font-size="14.10" textLength="28.61" lengthAdjust="spacingAndGlyphs">0.75</text>
<text x="1328.98" y="617.80" font-family='"Liberation Sans", sans-serif' font-size="14.10" textLength="29.50" lengthAdjust="spacingAndGlyphs">0.50</text>
<text x="1258.94" y="617.80" font-family='"Liberation Sans", sans-serif' font-size="14.10" textLength="28.61" lengthAdjust="spacingAndGlyphs">0.25</text>
<text x="1187.98" y="617.80" font-family='"Liberation Sans", sans-serif' font-size="14.10" textLength="29.50" lengthAdjust="spacingAndGlyphs">0.00</text>
<text x="1111.29" y="617.80" font-family='"Liberation Sans", sans-serif' font-size="14.10" textLength="40.63" lengthAdjust="spacingAndGlyphs">−0.25</text>
<text x="1040.38" y="617.80" font-family='"Liberation Sans", sans-serif' font-size="14.10" textLength="40.66" lengthAdjust="spacingAndGlyphs">−0.50</text>
<text x="970.29" y="617.80" font-family='"Liberation Sans", sans-serif' font-size="14.10" textLength="40.63" lengthAdjust="spacingAndGlyphs">−0.75</text>
<text x="899.38" y="617.80" font-family='"Liberation Sans", sans-serif' font-size="14.10" textLength="40.66" lengthAdjust="spacingAndGlyphs">−1.00</text>
</svg></body></html>
